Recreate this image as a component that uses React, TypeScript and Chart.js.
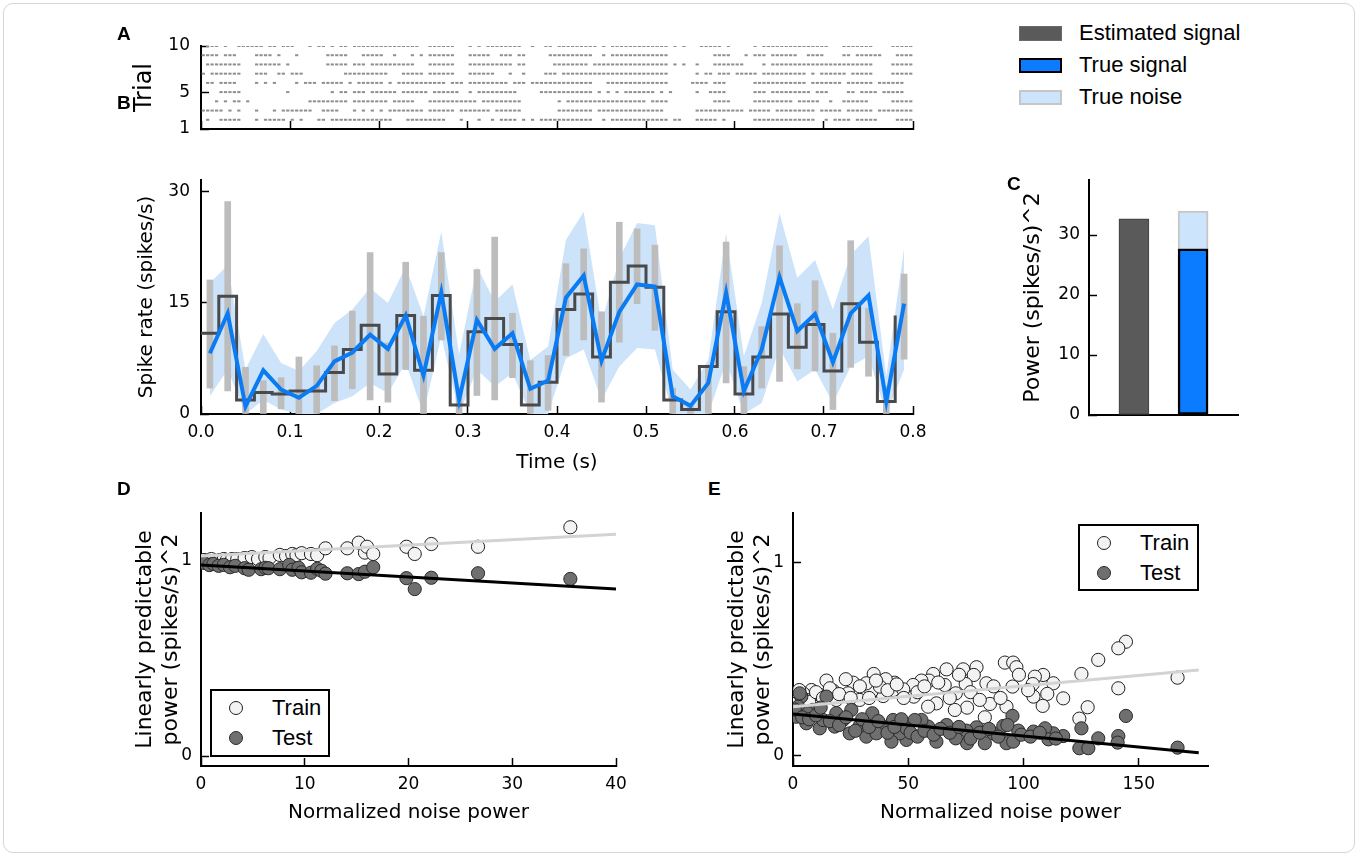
import React, { useEffect, useRef } from "react";
import { Chart, registerables } from "chart.js";

Chart.register(...registerables);

const SANS = "'DejaVu Sans', sans-serif";
const ARIAL = "'Liberation Sans', Arial, sans-serif";

// ---------------- Panel A: spike raster (5 ms bins, 'x' = spike) ----------------
const rasterBinSeconds = 0.005;
const rasterTrials = [10, 9, 8, 7, 6, 5, 4, 3, 2];
const rasterRows = [
  ".xxx.x..xxxxxx.xx.xxx...x.xx.x.xx.xxxxxx" + "xxxxxxxxx..xxxxxx...x.x.xxxxxxxx..x..xx." + "xxxxxxxxx.x.xxxxxxxxxxxxx.x.x...xxxxx.x." + "....x.xxxxxxxxxxxxxxx...xxxxxxx....xxxxx",
  "xxxx.xxx....xxxx.x...x......xxxxx...xxxx" + "x..x...x.x.xxxxxx...xxxxx..xxx.xx.....xx" + "xxxxxxxx..x.xxxxxxxxxxxxx..........xxxx." + "..x.xxx.xxxxxx..xxxx....xx.xxxxxx...xxxx",
  ".xxxxxxxx...xxxxxx.x........xxxxx.xxx.xx" + "xxxxxxxx...xxxxxx...xxxxxxxxxx.xx......x" + "xxxxxxx.xxxxxxxxxxxxxxxxx.x.x..x...xxxxx" + "xx....x.xxxxxxxxxxxxxxxxxxxxxxx....xxxxx",
  "x.xxxxxxx...xxx..xx.xxx.........xxxxxxxx" + "xx...xxxxx.xxxxxx...xxxxxx...x..x....xxx" + ".xxxxxxxxxxxxxxxxxxxxxxxx......x.xx.xxx." + "xxxxx.xxxxxxxxxx.x.xxxxxx.xxxxx....xxxxx",
  ".xx.xxxx....x.x.x....x.xxx.xxxxx.x.xxxxx" + "x.x.xxxxxxxxxxx.xxx.xxxxxxxxx.xxx.xxxxxx" + "xxxxxxxx...xxxxxxxxxxxxxx.....xxxx.xxx.." + "....xxxxxxxxxxxx.xxxxxxx.xxxxxx.xxxxxx..",
  "....xxxxx..........x.........x.xx.xxx.xx" + "xxxx.xxxxxx.xxxxxx..x.xxxxxxxxx.....xxxx" + "xxxxxxxx.x.x.x.xxxxxxx.x.x.....x..xxxx.." + "....xxx.xxxxxxxxx.xxx....xx.xxxx.xxxxx..",
  "...x.x.xx.x.............xxxxxxxxx.xxxxxx" + "xx.xxxxx...xxxxxxxxxxx.xxxxxxxxx........" + "x.xxxxxxxxxxxxxxxxxx.xxxx..........xxxx." + "....xxxxxxxxx.xxxxx..x..xxxxxx.....xxxxx",
  "xxxxx.x.x...x...x.xxxxxxx..xxxx...x.x.x." + "x.xxxxxxxx.xxxxxx.xxxxxxx.xxxxxx........" + "xxxxxxxx.xxxxxxxxxxxxxxx.......xxxxxxxxx" + "xx.xxxxx.xxxxxxxxx.xxxxx.xxxxxx.xxxxxxxx",
  ".x..xxxxx...x.xxxxx.x.x...xx.xxxxxxxxxxx" + "xxx...xxxxxxxxx...x...x..x.xxxx.x.x.xxxx" + "xxxxxxxx..x.xxxxxxxxxxxxx.xx...xxxxx.x.." + "....xxxxxxxxxxxxxx..x.xxxx.xxxxx....xxxx",
];
const trialTicks = [1, 5, 10];
const trialTickLabels = ["1", "5", "10"];

// ---------------- Panel B: spike rate ----------------
const binStarts = [0, 0.02, 0.04, 0.06, 0.08, 0.1, 0.12, 0.14, 0.16, 0.18, 0.2, 0.22, 0.24, 0.26, 0.28, 0.3, 0.32, 0.34, 0.36, 0.38, 0.4, 0.42, 0.44, 0.46, 0.48, 0.5, 0.52, 0.54, 0.56, 0.58, 0.6, 0.62, 0.64, 0.66, 0.68, 0.7, 0.72, 0.74, 0.76, 0.78];
const binCenters = [0.01, 0.03, 0.05, 0.07, 0.09, 0.11, 0.13, 0.15, 0.17, 0.19, 0.21, 0.23, 0.25, 0.27, 0.29, 0.31, 0.33, 0.35, 0.37, 0.39, 0.41, 0.43, 0.45, 0.47, 0.49, 0.51, 0.53, 0.55, 0.57, 0.59, 0.61, 0.63, 0.65, 0.67, 0.69, 0.71, 0.73, 0.75, 0.77, 0.79];
const estimatedRate = [10.9, 15.9, 1.9, 2.9, 2.7, 3.1, 3.1, 5.6, 8.7, 12.0, 5.4, 13.3, 5.9, 16.0, 1.2, 11.1, 12.9, 9.4, 1.2, 4.3, 14.1, 16.2, 7.7, 17.8, 20.0, 17.1, 1.9, 0.6, 6.4, 13.8, 2.7, 7.7, 13.5, 9.0, 12.1, 5.8, 14.9, 9.7, 1.7, 13.3];
const trueRate = [8.2, 13.6, 1.0, 5.9, 3.3, 2.2, 3.8, 7.1, 8.3, 10.7, 8.8, 13.3, 5.2, 16.4, 1.9, 12.7, 8.8, 10.9, 3.4, 4.5, 15.7, 18.7, 7.2, 13.8, 17.5, 17.2, 2.4, 1.1, 4.2, 16.4, 3.1, 8.7, 18.5, 11.2, 13.5, 7.0, 13.6, 16.0, 1.7, 14.9];
const noiseUpper = [17.7, 20.1, 6.0, 10.8, 6.9, 5.8, 8.5, 12.3, 14.1, 17.0, 15.0, 19.9, 13.2, 24.6, 8.0, 19.9, 15.2, 17.5, 7.3, 9.1, 23.5, 27.3, 12.3, 21.0, 25.8, 25.5, 6.0, 3.3, 7.3, 24.4, 7.8, 15.0, 27.1, 18.4, 20.8, 14.1, 21.5, 24.0, 5.1, 22.4];
const noiseLower = [2.4, 6.0, 0, 1.9, 0.6, 0, 0, 1.5, 2.4, 4.2, 2.8, 6.9, 0, 10.5, 0, 6.0, 3.7, 5.5, 0, 0, 7.5, 8.7, 1.9, 6.4, 8.9, 8.7, 0, 0, 0, 7.1, 0, 1.5, 8.9, 4.4, 6.0, 1.5, 6.4, 7.8, 0, 6.0];
const errHigh = [18.1, 28.7, 6.3, 4.5, 4.9, 7.7, 6.5, 9.2, 13.9, 21.8, 9.6, 20.5, 13.2, 21.8, 3.6, 19.5, 23.9, 13.6, 7.2, 7.9, 20.3, 22.3, 13.8, 25.9, 25.0, 22.8, 3.5, 1.0, 6.6, 23.2, 6.4, 11.8, 22.7, 14.9, 18.0, 10.9, 23.4, 14.3, 3.7, 18.9];
const errLow = [3.5, 3.1, 0, 0, 0.7, 0, 0, 1.8, 3.4, 1.9, 1.6, 6.0, 0, 10.0, 0, 2.5, 1.9, 4.9, 0, 0.5, 7.9, 10.0, 1.6, 9.7, 14.9, 11.3, 0, 0, 0, 4.2, 0, 3.5, 4.4, 6.1, 5.8, 0.6, 6.3, 5.1, 0, 7.4];
const timeTicks = [0, 0.1, 0.2, 0.3, 0.4, 0.5, 0.6, 0.7, 0.8];
const timeTickLabels = ["0.0", "0.1", "0.2", "0.3", "0.4", "0.5", "0.6", "0.7", "0.8"];
const rateTicks = [0, 15, 30];
const rateTickLabels = ["0", "15", "30"];

// ---------------- Panel C: power ----------------
const estimatedSignalPower = 32.7;
const trueSignalPower = 27.7;
const trueNoisePower = 6.3;
const powerTicks = [0, 10, 20, 30];
const powerTickLabels = ["0", "10", "20", "30"];

// ---------------- Panel D ----------------
const dTrain: [number, number][] = [
  [0.3, 1.005], [0.6, 1.0], [1.0, 1.01], [1.4, 1.0], [1.8, 1.005], [2.2, 1.01], [2.5, 1.005], [3.0, 1.01], [3.5, 1.01], [4.2, 1.015], [4.9, 1.02], [5.5, 1.01], [6.2, 1.02], [6.6, 1.015], [7.6, 1.031], [8.2, 1.025], [8.8, 1.036], [9.2, 1.03], [9.7, 1.04], [10.6, 1.036], [11.2, 1.03], [12.0, 1.065], [14.1, 1.065], [15.2, 1.094], [15.8, 1.043], [16.0, 1.073], [16.6, 1.036], [19.8, 1.073], [20.6, 1.036], [22.2, 1.087], [26.7, 1.073], [35.6, 1.173],
];
const dTest: [number, number][] = [
  [0.3, 0.99], [0.8, 0.979], [1.2, 0.985], [1.7, 0.975], [2.2, 0.98], [2.8, 0.968], [3.3, 0.975], [4.2, 0.963], [4.6, 0.955], [5.8, 0.958], [6.2, 0.965], [6.5, 0.963], [7.6, 0.958], [8.5, 0.98], [8.8, 0.955], [9.4, 0.965], [9.7, 0.942], [10.6, 0.94], [11.2, 0.96], [11.6, 0.95], [12.0, 0.935], [14.1, 0.937], [15.2, 0.933], [15.8, 0.945], [16.6, 0.968], [19.8, 0.912], [20.6, 0.856], [22.2, 0.914], [26.7, 0.937], [35.6, 0.908],
];
const dTrainFit: [number, number][] = [[0, 1.026], [40, 1.137]];
const dTestFit: [number, number][] = [[0, 0.979], [40, 0.856]];
const dNoiseTicks = [0, 10, 20, 30, 40];
const dNoiseTickLabels = ["0", "10", "20", "30", "40"];
const predTicks = [0, 1];
const predTickLabels = ["0", "1"];

// ---------------- Panel E ----------------
const eTrain: [number, number][] = [
  [166.8, 0.405], [144.4, 0.591], [141.1, 0.557], [132.4, 0.497], [141.1, 0.35], [125.1, 0.424], [127.8, 0.252], [124.2, 0.193], [117.2, 0.298], [112.9, 0.376], [108.5, 0.419], [104.9, 0.41], [110.3, 0.321], [104.3, 0.307], [108.3, 0.259], [104.0, 0.372], [91.9, 0.483], [95.5, 0.483], [96.9, 0.459], [95.2, 0.359], [92.6, 0.255], [83.9, 0.376], [85.4, 0.269], [83.2, 0.2], [79.6, 0.459], [73.8, 0.448], [78.4, 0.419], [74.9, 0.372], [70.6, 0.324], [75.5, 0.25], [70.2, 0.238], [66.6, 0.448], [65.8, 0.367], [60.8, 0.424], [59.0, 0.39], [55.7, 0.39], [62.2, 0.272], [58.6, 0.255], [52.1, 0.367], [52.4, 0.307], [43.4, 0.341], [44.1, 0.379], [40.2, 0.397], [39.1, 0.31], [35.0, 0.424], [34.0, 0.333], [31.8, 0.376], [28.9, 0.29], [26.1, 0.379], [22.9, 0.397], [23.9, 0.324], [17.4, 0.338], [14.5, 0.39], [11.6, 0.316], [8.0, 0.341], [4.4, 0.324], [2.7, 0.341], [5.8, 0.29], [2.2, 0.29], [18.8, 0.29], [37.7, 0.359], [47.8, 0.345],
  [1.0, 0.27], [3.5, 0.31], [7, 0.28], [10, 0.33], [13, 0.3], [16, 0.35], [20, 0.32], [25, 0.3], [29, 0.36], [33, 0.3], [36, 0.39], [41, 0.34], [45, 0.37], [48, 0.3], [54, 0.33], [57, 0.36], [63, 0.38], [68, 0.3], [72, 0.42], [77, 0.33], [81, 0.29], [87, 0.36], [90, 0.3], [98, 0.42], [102, 0.34],
];
const eTest: [number, number][] = [
  [166.8, 0.043], [144.4, 0.207], [141.1, 0.103], [140.8, 0.069], [132.4, 0.091], [124.2, 0.04], [128.1, 0.04], [125.1, 0.143], [117.2, 0.103], [112.9, 0.117], [109.3, 0.143], [110.8, 0.086], [104.3, 0.126], [95.2, 0.207], [97.7, 0.131], [92.6, 0.066], [95.5, 0.074], [91.2, 0.155], [86.8, 0.117], [83.2, 0.066], [79.6, 0.148], [75.5, 0.066], [75.2, 0.131], [70.6, 0.091], [66.6, 0.16], [62.2, 0.074], [58.6, 0.152], [55.7, 0.186], [52.8, 0.186], [49.2, 0.083], [46.3, 0.117], [43.4, 0.186], [42.7, 0.074], [39.1, 0.152], [34.4, 0.221], [31.8, 0.1], [28.9, 0.155], [25.3, 0.238], [24.6, 0.117], [18.8, 0.221], [18.1, 0.152], [14.5, 0.307], [11.6, 0.143], [8.7, 0.238], [5.8, 0.169], [3.6, 0.307], [2.2, 0.255], [1.4, 0.203], [2.9, 0.324], [6.5, 0.221], [13.0, 0.186], [21.7, 0.186], [36.2, 0.117], [49.2, 0.143],
  [0.8, 0.24], [4, 0.2], [7, 0.19], [10, 0.21], [12, 0.25], [16, 0.18], [20, 0.16], [23, 0.2], [27, 0.13], [30, 0.19], [33, 0.15], [37, 0.18], [41, 0.12], [44, 0.15], [47, 0.19], [51, 0.12], [54, 0.1], [57, 0.13], [61, 0.11], [64, 0.14], [68, 0.12], [72, 0.15], [77, 0.09], [81, 0.12], [85, 0.14], [89, 0.1], [93, 0.16], [99, 0.11], [103, 0.1], [107, 0.12], [114, 0.09],
];
const eTrainFit: [number, number][] = [[0, 0.255], [176, 0.445]];
const eTestFit: [number, number][] = [[0, 0.217], [176, 0.017]];
const eNoiseTicks = [0, 50, 100, 150];
const eNoiseTickLabels = ["0", "50", "100", "150"];

// ---------------- helpers ----------------
interface AxisSpec {
  min: number;
  max: number;
  ticks: number[];
  labels?: string[] | null;
  size: number;
  labelPad?: number;
  title?: string | string[];
  titleSize?: number;
  tickFont?: number;
  tickMarks?: boolean;
}

function axis(pos: "bottom" | "left", s: AxisSpec) {
  return {
    type: "linear",
    position: pos,
    min: s.min,
    max: s.max,
    offset: false,
    afterBuildTicks: (sc: any) => {
      sc.ticks = s.ticks.map((v) => ({ value: v }));
    },
    afterFit: (sc: any) => {
      if (pos === "bottom") sc.height = s.size;
      else sc.width = s.size;
      sc.paddingLeft = 0;
      sc.paddingRight = 0;
      sc.paddingTop = 0;
      sc.paddingBottom = 0;
    },
    grid: {
      display: s.tickMarks !== false,
      drawOnChartArea: false,
      drawTicks: true,
      tickLength: -8,
      tickWidth: 1.5,
      tickColor: "#000",
      color: "#000",
      offset: false,
    },
    border: { display: true, color: "#000", width: 2 },
    ticks: {
      display: !!s.labels,
      autoSkip: false,
      maxRotation: 0,
      minRotation: 0,
      padding: s.labelPad ?? 16,
      color: "#000",
      font: { family: SANS, size: s.tickFont ?? 17 },
      callback: (_v: any, i: number) => (s.labels ? s.labels[i] : ""),
    },
    title: s.title
      ? { display: true, text: s.title, color: "#000", font: { family: SANS, size: s.titleSize ?? 20 }, padding: 0 }
      : { display: false },
  };
}

function baseOptions(padding: any, scales: any) {
  return {
    responsive: false,
    maintainAspectRatio: false,
    animation: false,
    events: [],
    layout: { padding },
    plugins: { legend: { display: false }, tooltip: { enabled: false } },
    scales,
  };
}

const pts = (arr: [number, number][]) => arr.map(([x, y]) => ({ x, y }));

function ChartCanvas({ left, top, width, height, makeConfig }: any) {
  const ref = useRef<HTMLCanvasElement | null>(null);
  useEffect(() => {
    if (!ref.current) return;
    const chart = new Chart(ref.current, makeConfig());
    return () => chart.destroy();
  }, []);
  return (
    <canvas
      ref={ref}
      width={width}
      height={height}
      style={{ position: "absolute", left, top, width, height, display: "block" }}
    />
  );
}

// ---------------- configs ----------------
function rasterConfig() {
  const data: { x: number; y: number }[] = [];
  rasterRows.forEach((row, r) => {
    for (let i = 0; i < row.length; i++) {
      if (row[i] === "x") data.push({ x: (i + 0.5) * rasterBinSeconds, y: rasterTrials[r] });
    }
  });
  return {
    type: "scatter",
    data: {
      datasets: [
        {
          data,
          pointStyle: "line",
          pointRadius: 1.6,
          pointBorderWidth: 2,
          pointBorderColor: "#8e8e8e",
          pointBackgroundColor: "#8e8e8e",
        },
      ],
    },
    options: baseOptions(
      { left: 0, top: 12, right: 10, bottom: 8 },
      {
        x: axis("bottom", { min: 0, max: 0.8, ticks: timeTicks, labels: null, size: 6 }),
        y: axis("left", { min: 1, max: 10, ticks: trialTicks, labels: trialTickLabels, size: 71, labelPad: 19, title: "Trial", titleSize: 24 }),
      }
    ),
  };
}

function rateConfig() {
  return {
    type: "line",
    data: {
      datasets: [
        {
          type: "line",
          data: binCenters.map((x, i) => ({ x, y: trueRate[i] })),
          borderColor: "#0b7bf4",
          borderWidth: 4,
          pointRadius: 0,
          fill: false,
          order: 0,
        },
        {
          type: "line",
          data: binStarts.map((x, i) => ({ x, y: estimatedRate[i] })),
          borderColor: "#4a4a4a",
          borderWidth: 3,
          stepped: "before",
          pointRadius: 0,
          fill: false,
          order: 1,
        },
        {
          type: "bar",
          data: binCenters.map((x, i) => ({ x, y: [errLow[i], errHigh[i]] })),
          backgroundColor: "#bdbdbd",
          borderWidth: 0,
          barThickness: 6,
          order: 2,
        },
        {
          type: "line",
          data: binCenters.map((x, i) => ({ x, y: noiseLower[i] })),
          borderColor: "rgba(0,0,0,0)",
          pointRadius: 0,
          fill: false,
          order: 4,
        },
        {
          type: "line",
          data: binCenters.map((x, i) => ({ x, y: noiseUpper[i] })),
          borderColor: "rgba(0,0,0,0)",
          backgroundColor: "#cce3fa",
          pointRadius: 0,
          fill: 3,
          order: 3,
        },
      ],
    },
    options: baseOptions(
      { left: 0, top: 12, right: 20, bottom: 0 },
      {
        x: axis("bottom", { min: 0, max: 0.8, ticks: timeTicks, labels: timeTickLabels, size: 61, labelPad: 16, title: "Time (s)", titleSize: 20 }),
        y: axis("left", { min: 0, max: 31.6, ticks: rateTicks, labels: rateTickLabels, size: 66, labelPad: 19, title: "Spike rate (spikes/s)", titleSize: 20 }),
      }
    ),
  };
}

function powerConfig() {
  return {
    type: "bar",
    data: {
      datasets: [
        {
          data: [{ x: 0, y: estimatedSignalPower }],
          backgroundColor: "#5a5a5a",
          borderColor: "#474747",
          borderWidth: 1.5,
          borderSkipped: false,
          barThickness: 30,
          grouped: false,
          order: 0,
        },
        {
          data: [{ x: 1, y: trueSignalPower }],
          backgroundColor: "#0b7bff",
          borderColor: "#000",
          borderWidth: 2.5,
          borderSkipped: false,
          barThickness: 30,
          grouped: false,
          order: 0,
        },
        {
          data: [{ x: 1, y: [trueSignalPower, trueSignalPower + trueNoisePower] }],
          backgroundColor: "#cce4fc",
          borderColor: "#c6c6c6",
          borderWidth: 2,
          borderSkipped: "start",
          barThickness: 30,
          grouped: false,
          order: 1,
        },
      ],
    },
    options: baseOptions(
      { left: 0, top: 12, right: 10, bottom: 8 },
      {
        x: axis("bottom", { min: -0.76, max: 1.76, ticks: [0, 1], labels: null, size: 4, tickMarks: false }),
        y: axis("left", { min: 0, max: 39.17, ticks: powerTicks, labels: powerTickLabels, size: 69, labelPad: 17, title: "Power (spikes/s)^2", titleSize: 22 }),
      }
    ),
  };
}

function scatterConfig(
  train: [number, number][],
  test: [number, number][],
  trainFit: [number, number][],
  testFit: [number, number][],
  xMax: number,
  yMin: number,
  yMax: number,
  xTicks: number[],
  xLabels: string[]
) {
  return {
    type: "scatter",
    data: {
      datasets: [
        {
          data: pts(train),
          pointRadius: 6.6,
          pointBorderWidth: 1,
          pointBackgroundColor: "#f3f3f3",
          pointBorderColor: "#1e1e1e",
          order: 3,
        },
        {
          data: pts(test),
          pointRadius: 6.6,
          pointBorderWidth: 1,
          pointBackgroundColor: "#6f6f6f",
          pointBorderColor: "#2a2a2a",
          order: 2,
        },
        {
          type: "line",
          data: pts(trainFit),
          showLine: true,
          borderColor: "#d3d3d3",
          borderWidth: 3,
          pointRadius: 0,
          fill: false,
          order: 1,
        },
        {
          type: "line",
          data: pts(testFit),
          showLine: true,
          borderColor: "#000",
          borderWidth: 3,
          pointRadius: 0,
          fill: false,
          order: 0,
        },
      ],
    },
    options: baseOptions(
      { left: 0, top: 12, right: 20, bottom: 0 },
      {
        x: axis("bottom", { min: 0, max: xMax, ticks: xTicks, labels: xLabels, size: 59, labelPad: 16, title: "Normalized noise power", titleSize: 20 }),
        y: axis("left", {
          min: yMin,
          max: yMax,
          ticks: predTicks,
          labels: predTickLabels,
          size: 69,
          labelPad: 17,
          title: ["Linearly predictable", "power (spikes/s)^2"],
          titleSize: 22,
        }),
      }
    ),
  };
}

// ---------------- overlay text ----------------
function Txt({ left, top, size, bold, children }: any) {
  return (
    <div
      style={{
        position: "absolute",
        left,
        top,
        fontFamily: ARIAL,
        fontSize: size,
        fontWeight: bold ? 700 : 400,
        lineHeight: 1,
        whiteSpace: "nowrap",
        color: "#000",
      }}
    >
      {children}
    </div>
  );
}

function Patch({ left, top, width, height, fill, border, bw }: any) {
  return (
    <div
      style={{
        position: "absolute",
        left,
        top,
        width,
        height,
        background: fill,
        border: `${bw}px solid ${border}`,
        boxSizing: "border-box",
      }}
    />
  );
}

function Dot({ cx, cy, fill, border }: any) {
  return (
    <div
      style={{
        position: "absolute",
        left: cx - 7,
        top: cy - 7,
        width: 14,
        height: 14,
        borderRadius: "50%",
        background: fill,
        border: `1px solid ${border}`,
        boxSizing: "border-box",
      }}
    />
  );
}

function ScatterLegend({ left, top, width, height }: any) {
  return (
    <>
      <div
        style={{
          position: "absolute",
          left,
          top,
          width,
          height,
          border: "2px solid #000",
          background: "#fff",
          boxSizing: "border-box",
        }}
      />
      <Dot cx={left + 26} cy={top + 18.5} fill="#f3f3f3" border="#1e1e1e" />
      <Dot cx={left + 26} cy={top + 48.5} fill="#6f6f6f" border="#2a2a2a" />
      <Txt left={left + 62} top={top + 7.5} size={22}>Train</Txt>
      <Txt left={left + 62} top={top + 37.5} size={22}>Test</Txt>
    </>
  );
}

export default function App() {
  return (
    <div style={{ position: "absolute", left: 0, top: 0, width: 1358, height: 856, background: "#fff", overflow: "hidden" }}>
      <div
        style={{
          position: "absolute",
          left: 3,
          top: 3,
          width: 1350,
          height: 848,
          border: "1px solid #d6d6d6",
          borderRadius: 10,
        }}
      />
      <ChartCanvas left={130} top={34} width={793} height={109} makeConfig={rasterConfig} />
      <ChartCanvas left={135} top={168} width={798} height={307} makeConfig={rateConfig} />
      <ChartCanvas left={1020} top={168} width={228} height={259} makeConfig={powerConfig} />
      <ChartCanvas
        left={132}
        top={501}
        width={504}
        height={324}
        makeConfig={() => scatterConfig(dTrain, dTest, dTrainFit, dTestFit, 40, -0.051, 1.246, dNoiseTicks, dNoiseTickLabels)}
      />
      <ChartCanvas
        left={724}
        top={501}
        width={504}
        height={324}
        makeConfig={() => scatterConfig(eTrain, eTest, eTrainFit, eTestFit, 180, -0.052, 1.257, eNoiseTicks, eNoiseTickLabels)}
      />

      <Txt left={117} top={23.5} size={19} bold>A</Txt>
      <Txt left={117} top={93} size={19} bold>B</Txt>
      <Txt left={1007} top={174} size={19} bold>C</Txt>
      <Txt left={117} top={478.5} size={19} bold>D</Txt>
      <Txt left={708} top={478.5} size={19} bold>E</Txt>

      <Patch left={1019} top={25.5} width={43} height={15} fill="#5a5a5a" border="#6a6a6a" bw={1.5} />
      <Patch left={1019} top={57.5} width={43} height={15} fill="#0b7bff" border="#000" bw={2.5} />
      <Patch left={1019} top={89.5} width={43} height={15} fill="#cce4fc" border="#c6c6c6" bw={2} />
      <Txt left={1079} top={22} size={22}>Estimated signal</Txt>
      <Txt left={1079} top={54} size={22}>True signal</Txt>
      <Txt left={1079} top={86} size={22}>True noise</Txt>

      <ScatterLegend left={210} top={689} width={120} height={68} />
      <ScatterLegend left={1078} top={524} width={121} height={67} />
    </div>
  );
}
